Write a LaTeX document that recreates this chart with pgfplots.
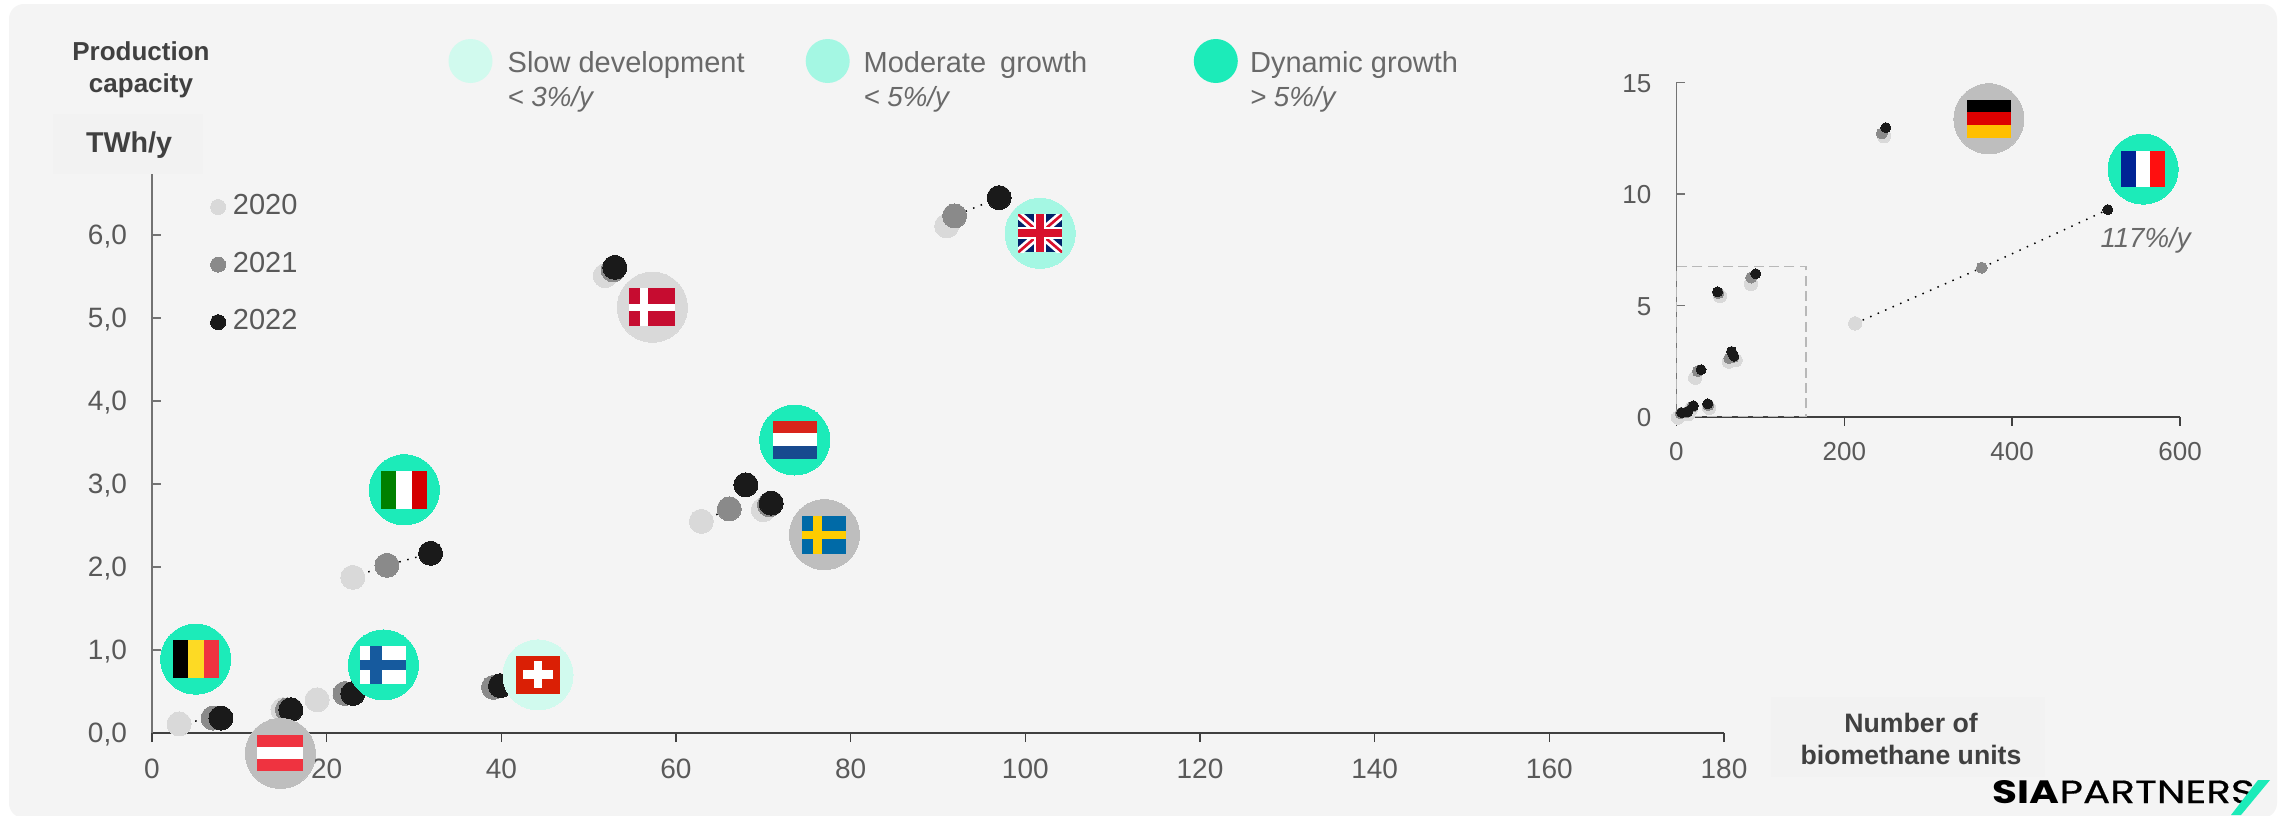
\documentclass[border=0pt]{standalone}
\usepackage{fontspec}
\setmainfont{Liberation Sans}
\newfontfamily\logofont{Poppins}
\newfontfamily\logofontm{Poppins}[FakeBold=0.5]
\usepackage{pgfplots}
\usepackage{pgfplotstable}
\pgfplotsset{compat=1.18}

\definecolor{bgc}{HTML}{F4F4F4}
\definecolor{boxc}{HTML}{F2F2F2}
\definecolor{cA}{HTML}{D9D9D9}
\definecolor{cB}{HTML}{8A8A8A}
\definecolor{cC}{HTML}{1A1A1A}
\definecolor{slow}{HTML}{D1FAEE}
\definecolor{moderate}{HTML}{A4F7E3}
\definecolor{dynamic}{HTML}{1CEBB9}
\definecolor{bubgrey}{HTML}{BEBEBE}
\definecolor{bublight}{HTML}{D9D9D9}
\definecolor{ticktext}{HTML}{595959}
\definecolor{legtext}{HTML}{696969}
\definecolor{titletext}{HTML}{404040}

% main chart, x y per year
\pgfplotstableread{
x y
3.1 0.11
15.0 0.28
18.9 0.40
39.1 0.55
23.0 1.875
62.9 2.55
70.0 2.69
51.9 5.51
91.0 6.11
}\mainA
\pgfplotstableread{
x y
7.0 0.18
15.5 0.28
22.1 0.475
39.1 0.55
26.9 2.02
66.1 2.70
70.7 2.75
52.8 5.58
91.9 6.23
}\mainB
\pgfplotstableread{
x y
7.9 0.18
15.9 0.28
23.0 0.475
39.9 0.57
31.9 2.165
68.0 2.99
70.9 2.77
53.0 5.61
97.0 6.45
}\mainC
% inset chart
\pgfplotstableread{
x y
2 -0.04
14.4 0.12
17.6 0.37
39 0.40
22.4 1.75
62.5 2.47
70.5 2.54
52 5.42
89 5.96
247.3 12.6
213 4.19
}\insetA
\pgfplotstableread{
x y
5 0.15
12 0.2
19 0.45
38 0.52
25.6 2.04
63 2.63
68 2.68
50 5.55
89 6.25
244.7 12.72
363.8 6.69
}\insetB
\pgfplotstableread{
x y
6.4 0.18
13.4 0.22
20.3 0.49
37.4 0.58
29.4 2.11
65.7 2.93
68.4 2.72
49 5.61
94.6 6.42
249.5 12.98
513.9 9.3
}\insetC

% flag marks: sizes in reference pixels, 1 px = 0.3 pt
\newcommand{\flr}[5]{\pgfsetfillcolor{#5}\pgfpathrectangle{\pgfpoint{#1*0.3pt}{#2*0.3pt}}{\pgfpoint{#3*0.3pt}{#4*0.3pt}}\pgfusepath{fill}}
\definecolor{fBEy}{HTML}{FDDA24}
\definecolor{fRed}{HTML}{EF3340}
\definecolor{fFI}{HTML}{165A9E}
\definecolor{fCH}{HTML}{DA1F05}
\definecolor{fITg}{HTML}{008000}
\definecolor{fITr}{HTML}{D40000}
\definecolor{fNLr}{HTML}{D9241A}
\definecolor{fNLb}{HTML}{174A8F}
\definecolor{fSEb}{HTML}{006AA7}
\definecolor{fSEy}{HTML}{FECC00}
\definecolor{fDK}{HTML}{C60C30}
\definecolor{fDEr}{HTML}{DD0000}
\definecolor{fDEy}{HTML}{FFBF00}
\definecolor{fFRb}{HTML}{002395}
\definecolor{fFRr}{HTML}{FF0F0F}
\definecolor{fUKb}{HTML}{012169}
\definecolor{fUKr}{HTML}{D8102C}
\pgfdeclareplotmark{flagBE}{\flr{-23}{-19}{15}{38}{black}\flr{-8}{-19}{16}{38}{fBEy}\flr{8}{-19}{15}{38}{fRed}}
\pgfdeclareplotmark{flagAT}{\flr{-23}{-18}{46}{12}{fRed}\flr{-23}{-6}{46}{12}{white}\flr{-23}{6}{46}{12}{fRed}}
\pgfdeclareplotmark{flagFI}{\flr{-23}{-19}{46}{38}{white}\flr{-13}{-19}{12}{38}{fFI}\flr{-23}{-5}{46}{10}{fFI}}
\pgfdeclareplotmark{flagCH}{\flr{-22}{-19}{44}{38}{fCH}\flr{-15}{-4}{30}{9}{white}\flr{-4}{-13}{8}{27}{white}}
\pgfdeclareplotmark{flagIT}{\flr{-23}{-19}{15}{38}{fITg}\flr{-8}{-19}{16}{38}{white}\flr{8}{-19}{15}{38}{fITr}}
\pgfdeclareplotmark{flagNL}{\flr{-22}{-19}{44}{13}{fNLb}\flr{-22}{-6}{44}{13}{white}\flr{-22}{7}{44}{12}{fNLr}}
\pgfdeclareplotmark{flagSE}{\flr{-22}{-19}{44}{38}{fSEb}\flr{-11}{-19}{9}{38}{fSEy}\flr{-22}{-4}{44}{8}{fSEy}}
\pgfdeclareplotmark{flagDK}{\flr{-23}{-19}{46}{38}{fDK}\flr{-12}{-19}{8}{38}{white}\flr{-23}{-4}{46}{7}{white}}
\pgfdeclareplotmark{flagDE}{\flr{-22}{-19}{44}{13}{fDEy}\flr{-22}{-6}{44}{13}{fDEr}\flr{-22}{7}{44}{12}{black}}
\pgfdeclareplotmark{flagFR}{\flr{-22}{-18}{15}{36}{fFRb}\flr{-7}{-18}{14}{36}{white}\flr{7}{-18}{15}{36}{fFRr}}
\pgfdeclareplotmark{flagUK}{%
  \flr{-22}{-19}{44}{38}{fUKb}%
  \pgfsetbuttcap
  \begin{pgfscope}
    \pgfpathrectangle{\pgfpoint{-6.6pt}{-5.7pt}}{\pgfpoint{13.2pt}{11.4pt}}\pgfusepath{clip}
    \pgfsetstrokecolor{white}\pgfsetlinewidth{2.4pt}
    \pgfpathmoveto{\pgfpoint{-6.6pt}{-5.7pt}}\pgfpathlineto{\pgfpoint{6.6pt}{5.7pt}}
    \pgfpathmoveto{\pgfpoint{-6.6pt}{5.7pt}}\pgfpathlineto{\pgfpoint{6.6pt}{-5.7pt}}\pgfusepath{stroke}
    \pgfsetstrokecolor{fUKr}\pgfsetlinewidth{0.8pt}
    \pgfpathmoveto{\pgfpoint{-6.6pt}{-5.7pt}}\pgfpathlineto{\pgfpoint{6.6pt}{5.7pt}}
    \pgfpathmoveto{\pgfpoint{-6.6pt}{5.7pt}}\pgfpathlineto{\pgfpoint{6.6pt}{-5.7pt}}\pgfusepath{stroke}
  \end{pgfscope}
  \flr{-22}{-6}{44}{12}{white}\flr{-6}{-19}{12}{38}{white}%
  \flr{-22}{-4}{44}{8}{fUKr}\flr{-4}{-19}{8}{38}{fUKr}}

\pgfplotsset{
  commonaxis/.style={
    scale only axis, clip=false,
    axis x line=bottom, axis y line=left,
    x axis line style={draw=titletext,line width=0.6pt,-},
    y axis line style={draw=black!55,line width=0.5pt,-},
    xtick align=outside, ytick align=inside,
    major tick length=2.7pt,
    x tick style={draw=titletext,line width=0.45pt},
    y tick style={draw=black!55,line width=0.45pt},
    minor tick num=0,
    tick label style={text=ticktext},
    /pgf/number format/assume math mode=true,
    /pgf/number format/1000 sep={},
  },
  dotline/.style={black,line width=0.45pt,dash pattern=on 0.45pt off 2pt,no marks,forget plot},
  dot/.style 2 args={only marks,mark=*,color=#1,mark size=#2,mark options={draw=#1,fill=#1,line width=0pt}},
  bubble/.style={dot={#1}{10.5pt},forget plot},
  flag/.style={only marks,mark=#1,forget plot},
}

\begin{document}
\begin{tikzpicture}[x=0.3pt,y=-0.3pt]
\useasboundingbox (0,0) rectangle (2283,815);
\fill[white] (0,0) rectangle (2283,815);
\begin{scope}
\clip (0,0) rectangle (2283,815);
\fill[bgc,rounded corners=4.5pt] (9,4) rectangle (2277,818);
\end{scope}
\fill[boxc] (53,114) rectangle (203,174);
\fill[boxc] (1771,697) rectangle (2045,777);
\node[text=titletext,font=\fontsize{8.6}{10}\selectfont\bfseries] at (129,145) {TWh/y};

% top legend
\fill[slow] (470.5,61) circle (22);
\fill[moderate] (827.7,61) circle (22);
\fill[dynamic] (1215.8,61) circle (22);
\foreach \xx/\aa/\bb in {507/Slow development/{< 3\%/y},863/Moderate\hspace{1.8pt} growth/{< 5\%/y},1249.5/Dynamic growth/{> 5\%/y}}{
  \node[anchor=base west,inner sep=0,text=legtext,font=\fontsize{8.7}{10}\selectfont] at (\xx,72) {\aa};
  \node[anchor=base west,inner sep=0,text=legtext,font=\fontsize{8.3}{10}\selectfont\itshape] at (\xx,106) {\bb};
}

% main axis
\begin{axis}[commonaxis,
  at={(45.6pt,-219.9pt)},anchor=south west,
  width=471.6pt,height=167.7pt,
  xmin=0,xmax=180,ymin=0,ymax=6.735,
  xtick={0,20,...,180},ytick={0,1,...,6},
  tick label style={font=\fontsize{8.4}{10}\selectfont},
  xticklabel style={yshift=-1.5pt},
  yticklabel style={xshift=-4pt,yshift=-0.5pt},
  yticklabel={\pgfmathprintnumber[fixed,fixed zerofill,precision=1,use comma,assume math mode=true]{\tick}},
  xlabel={Number of\\biomethane units},
  ylabel={Production\\capacity},
  every axis x label/.style={at={(rel axis cs:1.119,-0.0107)},anchor=center,align=center,
     text=titletext,font=\fontsize{8}{9.8}\selectfont\bfseries},
  every axis y label/.style={at={(rel axis cs:-0.007,1.186)},anchor=center,align=center,
     text=titletext,font=\fontsize{7.8}{9.6}\selectfont\bfseries},
  legend entries={2020,2021,2022},
  legend style={at={(rel axis cs:0.0373,0.9635)},anchor=north west,draw=none,fill=none,
     font=\fontsize{8.7}{10}\selectfont,text=ticktext,row sep=9.7pt,inner sep=0pt,outer sep=0pt,
     nodes={inner sep=0pt},/tikz/column 1/.style={column sep=2.2pt}},
  legend cell align=left,
  legend image post style={mark size=2.25pt},
  legend image code/.code={\draw[#1] plot coordinates {(0.08cm,0cm)};},
]
\addplot[dot={cA}{3.6pt}] table[x=x,y=y]{\mainA};
\addplot[dot={cB}{3.6pt}] table[x=x,y=y]{\mainB};
\addplot[dot={cC}{3.6pt}] table[x=x,y=y]{\mainC};
% dotted trajectories
\addplot[dotline] coordinates {(3.1,0.11)(7.0,0.18)(7.9,0.18)};
\addplot[dotline] coordinates {(18.9,0.40)(22.1,0.475)(23.0,0.475)};
\addplot[dotline] coordinates {(23.0,1.875)(26.9,2.02)(31.9,2.165)};
\addplot[dotline] coordinates {(62.9,2.55)(66.1,2.70)(68.0,2.99)};
\addplot[dotline] coordinates {(91.0,6.11)(91.9,6.23)(97.0,6.45)};
% country bubbles
\addplot[bubble=dynamic] coordinates {(5,0.89)(26.5,0.82)(28.9,2.93)(73.6,3.53)};
\addplot[bubble=slow] coordinates {(44.2,0.70)};
\addplot[bubble=moderate] coordinates {(101.7,6.02)};
\addplot[bubble=bubgrey] coordinates {(14.7,-0.246)(77,2.39)};
\addplot[bubble=bublight] coordinates {(57.3,5.13)};
\addplot[flag=flagBE] coordinates {(5,0.89)};
\addplot[flag=flagFI] coordinates {(26.5,0.82)};
\addplot[flag=flagIT] coordinates {(28.9,2.93)};
\addplot[flag=flagNL] coordinates {(73.6,3.53)};
\addplot[flag=flagCH] coordinates {(44.2,0.70)};
\addplot[flag=flagUK] coordinates {(101.7,6.02)};
\addplot[flag=flagAT] coordinates {(14.7,-0.246)};
\addplot[flag=flagSE] coordinates {(77,2.39)};
\addplot[flag=flagDK] coordinates {(57.3,5.13)};
\end{axis}

% inset axis
\begin{axis}[commonaxis,
  at={(502.92pt,-125.01pt)},anchor=south west,
  width=151.1pt,height=100.2pt,
  xmin=0,xmax=600,ymin=0,ymax=15,
  xtick={0,200,400,600},ytick={0,5,10,15},
  tick label style={font=\fontsize{7.8}{10}\selectfont},
  xticklabel style={yshift=-1.6pt},
  yticklabel style={xshift=-4pt,yshift=-0.3pt},
]
\addplot[dot={cA}{2pt},forget plot] table[x=x,y=y]{\insetA};
\addplot[dot={cB}{1.65pt},forget plot] table[x=x,y=y]{\insetB};
\addplot[dot={cC}{1.5pt},forget plot] table[x=x,y=y]{\insetC};
\addplot[dotline] coordinates {(213,4.19)(363.8,6.69)(513.9,9.3)};
\addplot[forget plot,no marks,draw=cA!85!black,line width=0.45pt,dash pattern=on 3pt off 1.6pt] coordinates {(0,0)(154.4,0)(154.4,6.74)(0,6.74)(0,0)};
\addplot[bubble=bubgrey] coordinates {(372.3,13.38)};
\addplot[bubble=dynamic] coordinates {(556,11.12)};
\addplot[flag=flagDE] coordinates {(372.3,13.38)};
\addplot[flag=flagFR] coordinates {(556,11.12)};
\node[text=legtext,font=\fontsize{8.3}{10}\selectfont\itshape] at (axis cs:559,7.9) {117\%/y};
\end{axis}

% logo
\node[anchor=south west,inner sep=0] at (1992,804) {\resizebox{78.6pt}{6.9pt}{\logofont\textbf{SIA}\logofontm PARTNERS}};
\fill[dynamic] (2258,780) -- (2270,780) -- (2241,815) -- (2231,815) -- cycle;
\end{tikzpicture}
\end{document}
